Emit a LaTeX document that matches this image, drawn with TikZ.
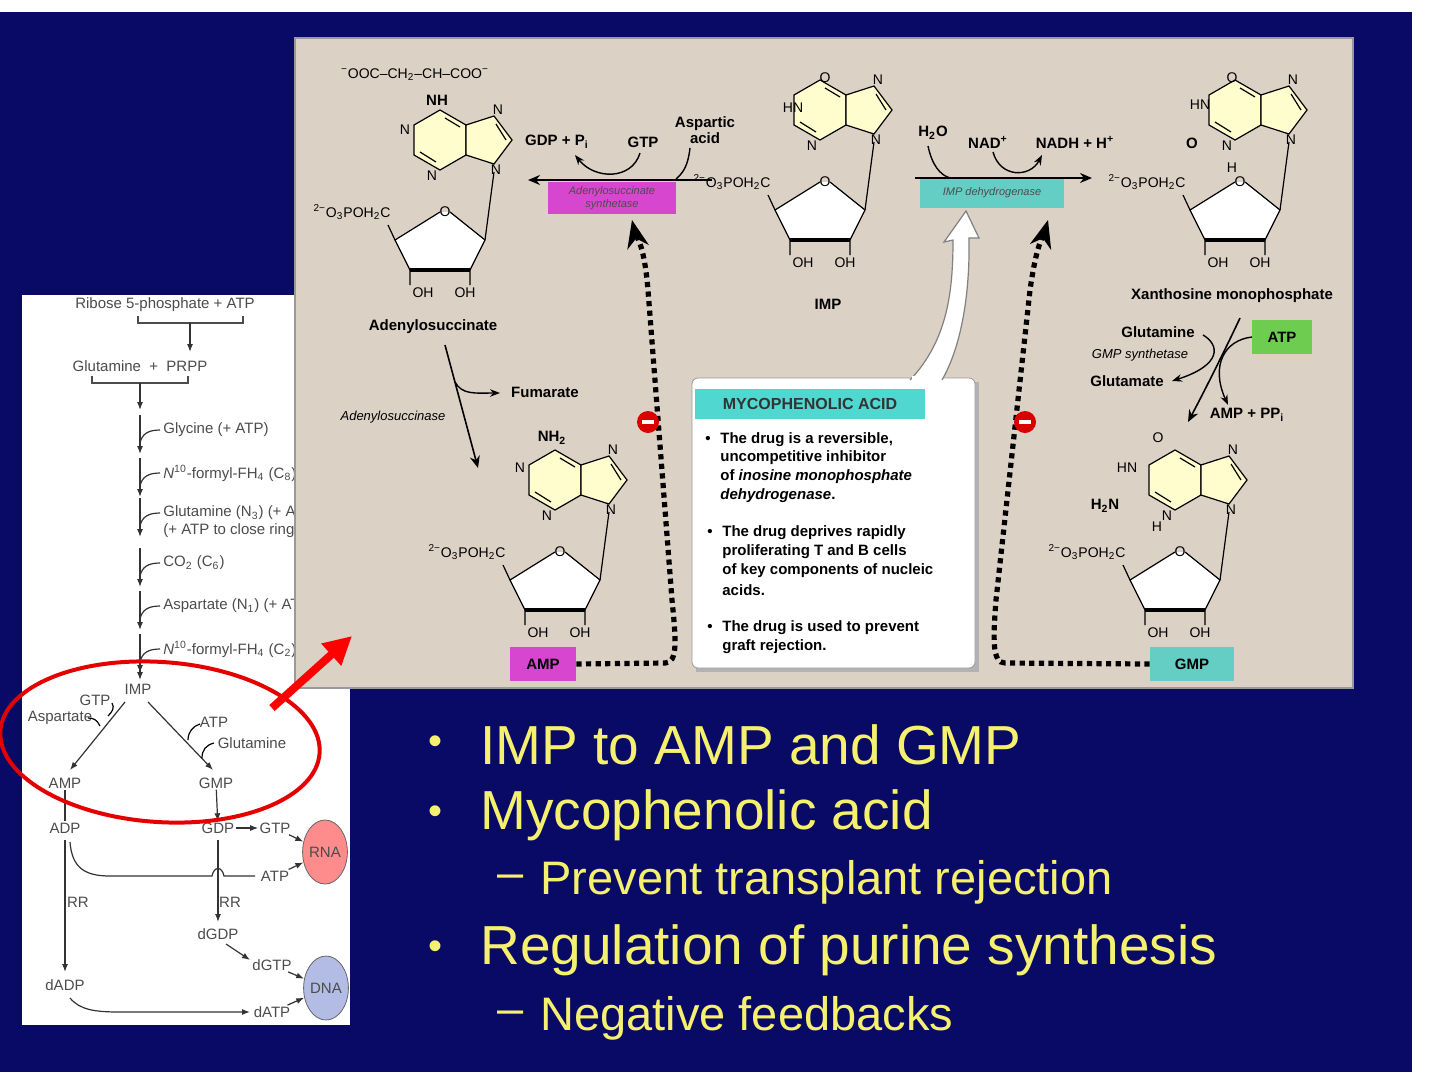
\documentclass[tikz,border=0pt]{standalone}
\usepackage{fontspec}
\setmainfont{Liberation Sans}
\usetikzlibrary{arrows.meta,shapes.geometric}
\definecolor{navy}{RGB}{8,10,102}
\definecolor{beige}{RGB}{220,209,197}
\definecolor{ylw}{RGB}{245,240,110}
\definecolor{mag}{RGB}{214,70,206}
\definecolor{teal2}{RGB}{100,206,196}
\definecolor{grn}{RGB}{110,205,80}
\definecolor{ringc}{RGB}{255,252,205}
\tikzset{
 ring/.style={fill=ringc,draw=black,line width=0.6pt},
 chem/.style={font=\fontsize{7}{8}\selectfont,inner sep=0.5pt},
 lbl/.style={font=\bfseries\fontsize{7.5}{8}\selectfont,inner sep=0.5pt},
 lp/.style={font=\fontsize{7.5}{8}\selectfont,text=black!70,inner sep=0.5pt},
 lpa/.style={-{Latex[length=4pt,width=3pt]},line width=0.6pt,black!80},
 arr/.style={-{Stealth[length=6pt,width=5pt]},line width=0.8pt},
 dots/.style={line width=2.6pt,dash pattern=on 2.6pt off 2.2pt},
 bul/.style={text=ylw,font=\fontsize{27.5}{30}\selectfont,anchor=west,inner sep=0},
 bdot/.style={text=ylw,font=\fontsize{20}{22}\selectfont,inner sep=0},
 sbul/.style={text=ylw,font=\fontsize{23.5}{26}\selectfont,anchor=west,inner sep=0},
 box/.style={font=\bfseries\fontsize{7.5}{9}\selectfont,anchor=west,inner sep=0},
 blob/.style={draw=black!60,ellipse,minimum width=21pt,minimum height=32pt,inner sep=0,text=black!70,font=\fontsize{7.5}{8}\selectfont}
}
\newcommand\nuc[2]{%
\begin{scope}[shift={(#1,#2)}]
 \filldraw[ring] (0,-30)--(26,-15)--(26,15)--(0,30)--(-26,15)--(-26,-15)--cycle;
 \filldraw[ring] (26,-15)--(54,-24)--(72,0)--(54,24)--(26,15)--cycle;
 \draw[line width=0.6pt] (5,-22)--(20,-13) (-20,12)--(-4,22) (56,-16)--(66,0);
 \node[chem] at (58,-30) {N};
 \node[chem] at (56,30) {N};
 \node[chem] at (-8,36) {N};
 \draw[line width=0.6pt,fill=white] (0,72)--(-45,100)--(-30,130)--(30,130)--(45,100)--(10,72);
 \draw[line width=2pt] (-30,130)--(30,130);
 \node[chem] at (5,72) {O};
 \draw[line width=0.6pt] (45,100)--(54,32) (-45,100)--(-52,85) (-30,130)--(-30,145) (30,130)--(30,145);
 \node[chem] at (-17,153) {OH};
 \node[chem] at (25,153) {OH};
 \node[chem] at (-88,72) {\textsuperscript{2−}O\textsubscript{3}POH\textsubscript{2}C};
\end{scope}}
\begin{document}
\begin{tikzpicture}[x=0.5pt,y=-0.5pt]
\useasboundingbox (0,0) rectangle (1440,1082);
\fill[white] (0,0) rectangle (1440,1082);
\fill[navy] (0,12) rectangle (1412,1072);
% ---------- left panel
\fill[white] (22,295) rectangle (350,1025);
\node[lp] (r5p) at (165,305) {Ribose 5-phosphate + ATP};
\draw[line width=0.6pt,black!70] (138,316)--(138,323)--(243,323)--(243,316);
\draw[lpa] (190,323)--(190,352);
\node[lp] (glp) at (140,366) {Glutamine \ + \ PRPP};
\draw[line width=0.6pt,black!70] (92,376)--(92,383)--(188,383)--(188,376);
\draw[lpa] (140,383)--(140,410);
\foreach \yy/\tt in {430/{Glycine (+ ATP)},473/{\textit{N}\textsuperscript{10}-formyl-FH\textsubscript{4} (C\textsubscript{8})},513/{Glutamine (N\textsubscript{3}) (+ ATP)},563/{CO\textsubscript{2} (C\textsubscript{6})},606/{Aspartate (N\textsubscript{1}) (+ ATP)},649/{\textit{N}\textsuperscript{10}-formyl-FH\textsubscript{4} (C\textsubscript{2})}}{
 \node[lp,anchor=west] at (162,\yy) {\tt};
 \draw[lpa] (140,\yy-15)--(140,\yy+24);
 \draw[line width=0.6pt,black!80] (160,\yy) .. controls (148,\yy) and (142,\yy+4) .. (140,\yy+13);
}
\node[lp,anchor=west] at (162,531) {(+ ATP to close ring)};
\draw[lpa] (140,660)--(140,680);
\node[lp] (imp0) at (138,689) {IMP};
\node[lp] (gtp0) at (95,700) {GTP};
\node[lp] (asp0) at (60,718) {Aspartate};
\node[lp] (amp0) at (65,783) {AMP};
\node[lp] (gmp0) at (216,783) {GMP};
\node[lp] (atp0) at (214,722) {ATP};
\node[lp] (glu0) at (252,743) {Glutamine};
\draw[lpa] (125,702)--(70,770);
\draw[line width=0.6pt] (112,703) .. controls (115,708) and (112,712) .. (108,716);
\draw[line width=0.6pt] (88,718) .. controls (94,718) and (97,720) .. (100,726);
\draw[lpa] (148,702)--(213,770);
\draw[line width=0.6pt] (200,724) .. controls (193,726) and (188,732) .. (188,740);
\draw[line width=0.6pt] (214,743) .. controls (206,745) and (202,750) .. (202,758);
\node[lp] (adp0) at (65,828) {ADP};
\node[lp] (gdp0) at (218,828) {GDP};
\node[lp] (gtp1) at (275,828) {GTP};
\node[lp] (atp1) at (275,876) {ATP};
\node[lp] (dgdp) at (218,934) {dGDP};
\node[lp] (dgtp) at (272,965) {dGTP};
\node[lp] (dadp) at (65,985) {dADP};
\node[lp] (datp) at (272,1012) {dATP};
\node[lp] at (78,902) {RR};
\node[lp] at (230,902) {RR};
\draw[line width=0.6pt,black!80] (amp0)--(adp0);
\draw[lpa] (gmp0)--(gdp0);
\draw[lpa] (gdp0)--(gtp1);
\draw[lpa] (65,840)--(65,972);
\draw[lpa] (218,840)--(218,922);
\draw[line width=0.6pt,black!80] (70,842) .. controls (72,868) and (85,876) .. (110,876) -- (212,876) .. controls (214,866) and (222,866) .. (224,876) -- (255,876);
\draw[lpa] (226,944)--(250,960);
\draw[lpa] (70,998) .. controls (80,1010) and (95,1012) .. (120,1012) -- (250,1012);
\node[blob,fill=red!45] (rna) at (325,852) {RNA};
\node[blob,fill=cyan!35!blue!30] (dna) at (326,988) {DNA};
\draw[lpa] (gtp1)--(rna);
\draw[lpa] (atp1)--(rna);
\draw[lpa] (dgtp)--(dna);
\draw[lpa] (datp)--(dna);
% ---------- beige panel
\fill[beige] (295,38) rectangle (1353,688);
\draw[black!40,line width=0.6pt] (295,38) rectangle (1353,688);
% red marks
\draw[red!90!black,line width=2pt,rotate around={-4:(160,742)}] (160,742) ellipse [x radius=160,y radius=80];
\draw[red,line width=4pt,-{Triangle[length=14pt,width=14pt]}] (272,708)--(352,636);
% Adenylosuccinate
\nuc{440}{140}
\node[chem] at (405,130) {N};
\node[lbl] at (437,100) {NH};
\node[chem] at (415,75) {\textsuperscript{−}OOC–CH\textsubscript{2}–CH–COO\textsuperscript{−}};
\node[lbl] (adsuc) at (433,327) {Adenylosuccinate};
% IMP
\nuc{820}{110}
\node[chem] at (825,78) {O};
\node[chem] at (793,108) {HN};
\node[lbl] (imp) at (828,304) {IMP};
% XMP
\nuc{1235}{110}
\node[chem] at (1232,78) {O};
\node[chem] at (1200,105) {HN};
\node[lbl] at (1192,143) {O};
\node[chem] at (1232,168) {H};
\node[lbl] (xmp) at (1232,296) {Xanthosine monophosphate};
% AMP
\nuc{555}{480}
\node[chem] at (520,468) {N};
\node[lbl] at (552,438) {NH\textsubscript{2}};
% GMP
\nuc{1175}{480}
\node[chem] at (1158,438) {O};
\node[chem] at (1127,468) {HN};
\node[lbl] at (1105,506) {H\textsubscript{2}N};
\node[chem] at (1157,527) {H};
% enzyme boxes
\node[fill=mag,minimum width=64,minimum height=16,inner sep=0,align=center,font=\itshape\fontsize{5.5}{6.5}\selectfont,text=black!70] (ads) at (612,198) {Adenylosuccinate\\synthetase};
\node[fill=teal2,minimum width=72,minimum height=15,inner sep=0,font=\itshape\fontsize{5.5}{6.5}\selectfont,text=black!70] (impdh) at (992,193) {IMP dehydrogenase};
\node[fill=mag,minimum width=33,minimum height=17,inner sep=0,lbl] (ampb) at (543,664) {AMP};
\node[fill=teal2,minimum width=42,minimum height=17,inner sep=0,lbl] (gmpb) at (1192,664) {GMP};
% top reactions
\draw[arr] (712,180)--(528,180);
\node[lbl] at (557,142) {GDP + P\textsubscript{i}};
\node[lbl] at (643,142) {GTP};
\node[lbl,align=center] at (705,130) {Aspartic\\acid};
\draw[-{Stealth[length=5pt]},line width=0.7pt] (640,153) .. controls (632,180) and (595,180) .. (575,155);
\draw[line width=0.7pt] (690,148) .. controls (688,165) and (684,172) .. (676,179);
\draw[arr] (915,178)--(1092,178);
\node[lbl] at (933,133) {H\textsubscript{2}O};
\node[lbl] at (988,142) {NAD\textsuperscript{+}};
\node[lbl] at (1075,142) {NADH + H\textsuperscript{+}};
\draw[line width=0.7pt] (928,146) .. controls (932,165) and (940,175) .. (950,178);
\draw[-{Stealth[length=5pt]},line width=0.7pt] (993,152) .. controls (1000,178) and (1030,178) .. (1042,155);
% adenylosuccinase
\draw[arr] (445,345)--(478,468);
\draw[-{Stealth[length=5pt]},line width=0.7pt] (455,382) .. controls (462,395) and (475,393) .. (500,393);
\node[lbl] at (545,392) {Fumarate};
\node[chem,font=\itshape\fontsize{6.5}{7}\selectfont] at (393,417) {Adenylosuccinase};
% GMP synthetase
\draw[arr] (1240,318) .. controls (1225,350) and (1205,390) .. (1188,422);
\draw[-{Stealth[length=5pt]},line width=0.7pt] (1203,335) .. controls (1220,345) and (1222,365) .. (1172,381);
\draw[-{Stealth[length=5pt]},line width=0.7pt] (1252,337) .. controls (1225,340) and (1210,365) .. (1228,405);
\node[lbl] at (1158,332) {Glutamine};
\node[chem,font=\itshape\fontsize{6.5}{7}\selectfont] at (1140,355) {GMP synthetase};
\node[lbl] at (1127,381) {Glutamate};
\node[fill=grn,minimum width=30,minimum height=17,inner sep=0,lbl] (atpb) at (1282,337) {ATP};
\node[lbl] at (1247,415) {AMP + PP\textsubscript{i}};
% dotted feedback
\draw[dots] (ampb.east) -- (665,663) .. controls (678,663) and (676,640) .. (672,600) -- (648,290) .. controls (645,255) and (640,240) .. (634,232);
\draw[-{Stealth[length=14pt,width=11pt]},line width=1pt] (636,238)--(632,220);
\draw[dots] (gmpb.west) -- (1005,663) .. controls (992,663) and (993,640) .. (996,600) -- (1030,290) .. controls (1035,255) and (1040,240) .. (1045,232);
\draw[-{Stealth[length=14pt,width=11pt]},line width=1pt] (1043,238)--(1048,220);
\foreach \cx in {648,1025}{
 \fill[red!85!black] (\cx,422) circle (11);
 \fill[white] (\cx-6,420) rectangle (\cx+6,424);
}
% Mycophenolic acid box
\fill[black!30] (696,382) rectangle (979,672);
\draw[fill=white,draw=black!40,rounded corners=3] (692,378) rectangle (975,668);
\draw[fill=white,draw=black!50,line width=0.6pt] (910,380) .. controls (948,340) and (953,290) .. (953,240) -- (944,242) -- (966,211) -- (979,238) -- (969,238) .. controls (970,292) and (962,345) .. (942,380);
\fill[white] (912,376) rectangle (940,384);
\node[fill=teal2!80!cyan,minimum width=115,minimum height=15,inner sep=0,font=\bfseries\fontsize{8}{9}\selectfont,text=black!80] (myco) at (810,404) {MYCOPHENOLIC ACID};
\node[box] at (705,440) {•};
\node[box] at (720,440) {The drug is a reversible,};
\node[box] at (720,458) {uncompetitive inhibitor};
\node[box] at (720,477) {of \textit{inosine monophosphate}};
\node[box] at (720,496) {\textit{dehydrogenase}.};
\node[box] at (707,533) {•};
\node[box] at (722,533) {The drug deprives rapidly};
\node[box] at (722,552) {proliferating T and B cells};
\node[box] at (722,571) {of key components of nucleic};
\node[box] at (722,590) {acids.};
\node[box] at (707,628) {•};
\node[box] at (722,628) {The drug is used to prevent};
\node[box] at (722,647) {graft rejection.};
% bullets
\node[bdot] at (435,745) {•};
\node[bul] at (480,745) {IMP to AMP and GMP};
\node[bdot] at (435,815) {•};
\node[bul] at (480,815) {Mycophenolic acid};
\node[sbul] at (497,882) {–};
\node[sbul] at (540,882) {Prevent transplant rejection};
\node[bdot] at (435,950) {•};
\node[bul] at (480,950) {Regulation of purine synthesis};
\node[sbul] at (497,1018) {–};
\node[sbul] at (540,1018) {Negative feedbacks};
\end{tikzpicture}
\end{document}
